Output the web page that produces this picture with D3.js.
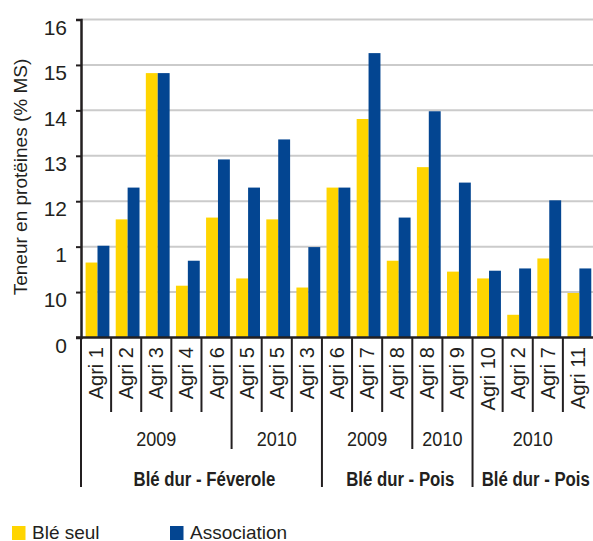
<!DOCTYPE html>
<html>
<head>
<meta charset="utf-8">
<script src="https://cdn.jsdelivr.net/npm/d3@7/dist/d3.min.js"></script>
<style>
  html, body { margin: 0; padding: 0; background: #fff; }
  svg { display: block; }
  text { font-family: "Liberation Sans", Arial, sans-serif; fill: #231f20; }
</style>
</head>
<body>
<svg id="chart" width="593" height="541"></svg>
<script>
// Protein content per farm, wheat alone vs. intercropped
const categories = ["Agri 1","Agri 2","Agri 3","Agri 4","Agri 6","Agri 5","Agri 5","Agri 3",
                    "Agri 6","Agri 7","Agri 8","Agri 8","Agri 9",
                    "Agri 10","Agri 2","Agri 7","Agri 11"];
const bleSeul     = [10.65, 11.60, 14.82, 10.14, 11.64, 10.30, 11.60, 10.10,
                     12.30, 13.81, 10.69, 12.75, 10.45,
                     10.30, 9.50, 10.74, 9.98];
const association = [11.02, 12.30, 14.82, 10.69, 12.92, 12.30, 13.36, 10.99,
                     12.30, 15.26, 11.64, 13.98, 12.41,
                     10.47, 10.52, 12.02, 10.52];
const seriesNames = ["Blé seul", "Association"];
const seriesColors = ["#ffd500", "#034591"];

// Axis ticks and their printed labels
const tickValues = [9, 10, 11, 12, 13, 14, 15, 16];
const tickLabels = ["0", "10", "1", "12", "13", "14", "15", "16"];

// Year groups: [label, first index, last index]
const years = [["2009", 0, 4], ["2010", 5, 7], ["2009", 8, 10], ["2010", 11, 12], ["2010", 13, 16]];
// Crop groups
const groups = [["Blé dur - Féverole", 0, 7], ["Blé dur - Pois", 8, 12], ["Blé dur - Pois", 13, 16]];

const yTitle = "Teneur en protëines (% MS)";

const svg = d3.select("#chart");
const plotLeft = 81, plotRight = 593, plotTop = 19.5, plotBottom = 337.5;

const x = d3.scaleBand().domain(d3.range(categories.length)).range([plotLeft, plotRight]).padding(0);
const xSub = d3.scaleBand().domain([0, 1]).range([4.6, 28.4]).padding(0);
const y = d3.scaleLinear().domain([9, 16]).range([plotBottom, plotTop]);

// Gridlines
svg.append("g")
  .selectAll("line")
  .data(tickValues.slice(1))
  .join("line")
  .attr("x1", plotLeft).attr("x2", plotRight)
  .attr("y1", d => y(d)).attr("y2", d => y(d))
  .attr("stroke", "#cbcbcb").attr("stroke-width", 2);

// Bars
const data = categories.map((c, i) => ({ i, values: [bleSeul[i], association[i]] }));
svg.append("g")
  .selectAll("g")
  .data(data)
  .join("g")
  .attr("transform", d => `translate(${x(d.i)},0)`)
  .selectAll("rect")
  .data(d => d.values.map((v, k) => ({ v, k })))
  .join("rect")
  .attr("x", d => xSub(d.k))
  .attr("width", xSub.bandwidth())
  .attr("y", d => y(d.v))
  .attr("height", d => y(9) - y(d.v))
  .attr("fill", d => seriesColors[d.k]);

// Y axis
const yAxis = d3.axisLeft(y)
  .tickValues(tickValues)
  .tickFormat((d, i) => tickLabels[i])
  .tickSize(5)
  .tickPadding(9);
const ya = svg.append("g").attr("transform", `translate(${plotLeft},0)`).call(yAxis);
ya.select(".domain").attr("stroke", "#231f20").attr("stroke-width", 2.5);
ya.selectAll(".tick line").attr("stroke", "#231f20").attr("stroke-width", 2);
ya.selectAll(".tick text")
  .attr("dy", "0.7em")
  .style("font-size", "21px")
  .style("font-family", "'Liberation Sans', Arial, sans-serif")
  .attr("fill", "#231f20");

// Baseline
svg.append("line")
  .attr("x1", plotLeft - 5).attr("x2", plotRight)
  .attr("y1", plotBottom).attr("y2", plotBottom)
  .attr("stroke", "#231f20").attr("stroke-width", 2.5);

// Category separators (short), year separators (medium), group separators (long)
const lineCol = "#231f20";
const yearEdges = new Set(years.map(d => d[1]));
const groupEdges = new Set(groups.map(d => d[1]));
const sep = svg.append("g");
d3.range(categories.length).forEach(i => {
  let yEnd = 412;
  if (groupEdges.has(i)) yEnd = 487;
  else if (yearEdges.has(i)) yEnd = 449;
  sep.append("line")
    .attr("x1", x(i)).attr("x2", x(i))
    .attr("y1", plotBottom).attr("y2", yEnd)
    .attr("stroke", lineCol).attr("stroke-width", 2);
});

// Category labels
svg.append("g")
  .selectAll("text")
  .data(categories)
  .join("text")
  .attr("transform", (d, i) => `translate(${x(i) + x.bandwidth() / 2 + 7},347) rotate(-90)`)
  .attr("text-anchor", "end")
  .style("font-size", "20px")
  .text(d => d);

// Year labels (condensed)
svg.append("g")
  .selectAll("text")
  .data(years)
  .join("text")
  .attr("transform", d => `translate(${(x(d[1]) + x(d[2]) + x.bandwidth()) / 2},446) scale(0.86,1)`)
  .attr("text-anchor", "middle")
  .style("font-size", "21px")
  .text(d => d[0]);

// Group labels (bold, condensed)
svg.append("g")
  .selectAll("text")
  .data(groups)
  .join("text")
  .attr("transform", d => `translate(${(x(d[1]) + x(d[2]) + x.bandwidth()) / 2 + 3},486) scale(0.8,1)`)
  .attr("text-anchor", "middle")
  .style("font-size", "21px")
  .style("font-weight", "bold")
  .text(d => d[0]);

// Y title
svg.append("text")
  .attr("transform", "translate(27,177) rotate(-90)")
  .attr("text-anchor", "middle")
  .style("font-size", "19px")
  .text(yTitle);

// Legend
const legendX = [12, 170];
const lg = svg.append("g");
seriesNames.forEach((name, k) => {
  lg.append("rect")
    .attr("x", legendX[k]).attr("y", 526)
    .attr("width", 13.5).attr("height", 14)
    .attr("fill", seriesColors[k]);
  lg.append("text")
    .attr("x", legendX[k] + 20).attr("y", 538.5)
    .style("font-size", "19px")
    .text(name);
});
</script>
</body>
</html>
